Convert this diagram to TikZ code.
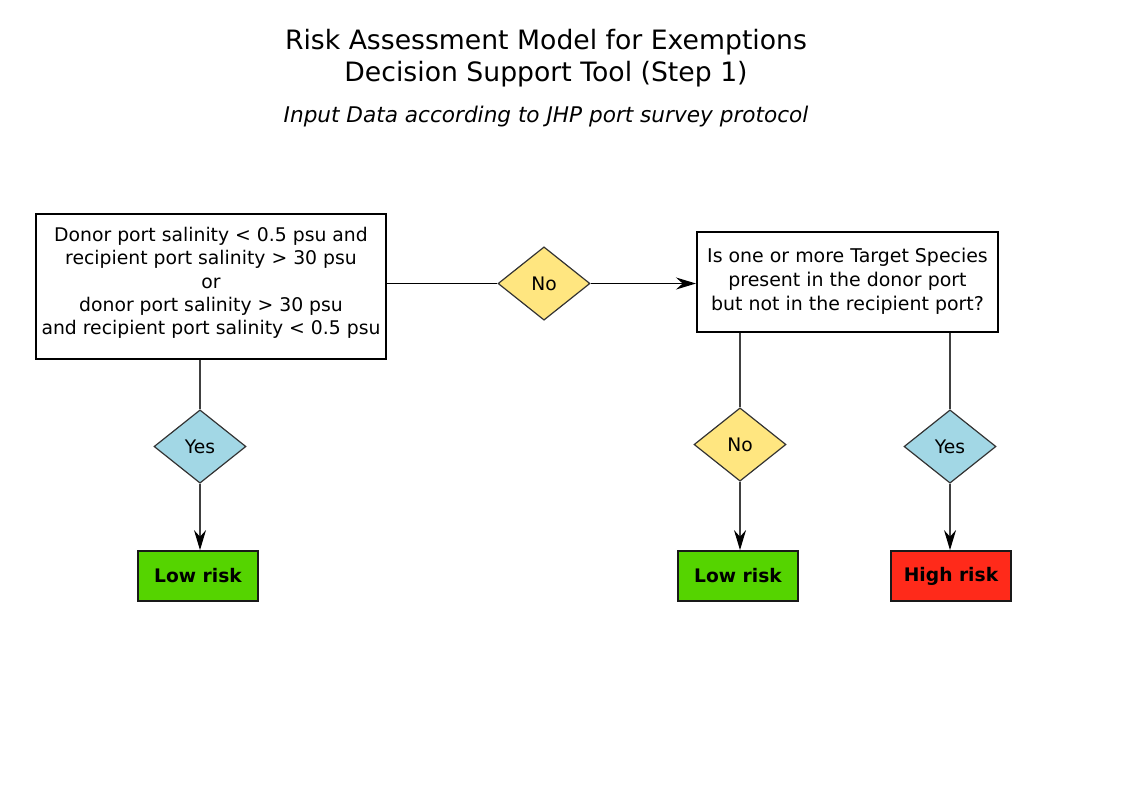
\documentclass[tikz,border=0pt]{standalone}
\usepackage{fontspec}
\setmainfont{DejaVu Sans}
\usetikzlibrary{shapes.geometric,arrows.meta}
\definecolor{noyellow}{HTML}{FFE680}
\definecolor{yesblue}{HTML}{A2D7E5}
\definecolor{lowgreen}{HTML}{55D400}
\definecolor{highred}{HTML}{FF2A1A}
\definecolor{edgegray}{HTML}{333333}
\tikzset{
  qbox/.style={draw=black, line width=1.5pt, fill=white, align=center, inner sep=0pt,
    font=\fontsize{14.1}{17.4}\selectfont},
  dec/.style={diamond, draw=edgegray, line width=0.9pt, inner sep=0pt, aspect=1.26,
    minimum width=69pt, minimum height=55pt, font=\fontsize{14}{16}\selectfont},
  decno/.style={dec, fill=noyellow},
  decyes/.style={dec, fill=yesblue},
  result/.style={draw=black!90, line width=1.4pt, minimum width=90pt, minimum height=37.5pt,
    inner sep=0pt, font=\bfseries\fontsize{14}{16}\selectfont},
  conn/.style={draw=black!75, line width=0.9pt},
  arr/.style={conn, -{Stealth[length=15pt,width=9pt,inset=5pt,black]}},
}
\begin{document}
\begin{tikzpicture}[x=0.75pt,y=-0.75pt]
\useasboundingbox (0,0) rectangle (1123,794);
\node[font=\fontsize{20}{24}\selectfont, align=center] (title) at (546,58)
  {Risk Assessment Model for Exemptions\\Decision Support Tool (Step 1)};
\node[font=\itshape\fontsize{16.2}{18}\selectfont] (sub) at (546,117)
  {Input Data according to JHP port survey protocol};
\node[qbox, minimum width=262.5pt, minimum height=108.75pt] (q1) at (211,286.5) {};
\node[align=center, font=\fontsize{14.1}{17.4}\selectfont, inner sep=0pt] (q1t) at (211,283)
  {Donor port salinity < 0.5 psu and\\recipient port salinity > 30 psu\\or\\donor port salinity > 30 psu\\and recipient port salinity < 0.5 psu};
\node[qbox, minimum width=225.75pt, minimum height=75pt, font=\fontsize{14.2}{18}\selectfont] (q2) at (847.5,281.5)
  {Is one or more Target Species\\present in the donor port\\but not in the recipient port?};
\node[decno] (d1) at (544,283.5) {No};
\node[decyes] (d2) at (200,446.5) {Yes};
\node[decno] (d3) at (740,444.5) {No};
\node[decyes] (d4) at (950,446.5) {Yes};
\node[result, fill=lowgreen] (r1) at (198,576) {Low risk};
\node[result, fill=lowgreen] (r2) at (738,576) {Low risk};
\node[result, fill=highred] (r3) at (951,576) {High risk};
\draw[conn, draw=black] (q1.east |- d1) -- (d1.west);
\draw[arr, draw=black] (d1.east) -- (q2.west |- d1);
\draw[conn] (d2.north |- q1.south) -- (d2.north);
\draw[arr] (d2.south) -- (d2.south |- r1.north);
\draw[conn] (d3.north |- q2.south) -- (d3.north);
\draw[arr] (d3.south) -- (d3.south |- r2.north);
\draw[conn] (d4.north |- q2.south) -- (d4.north);
\draw[arr] (d4.south) -- (d4.south |- r3.north);
\end{tikzpicture}
\end{document}
